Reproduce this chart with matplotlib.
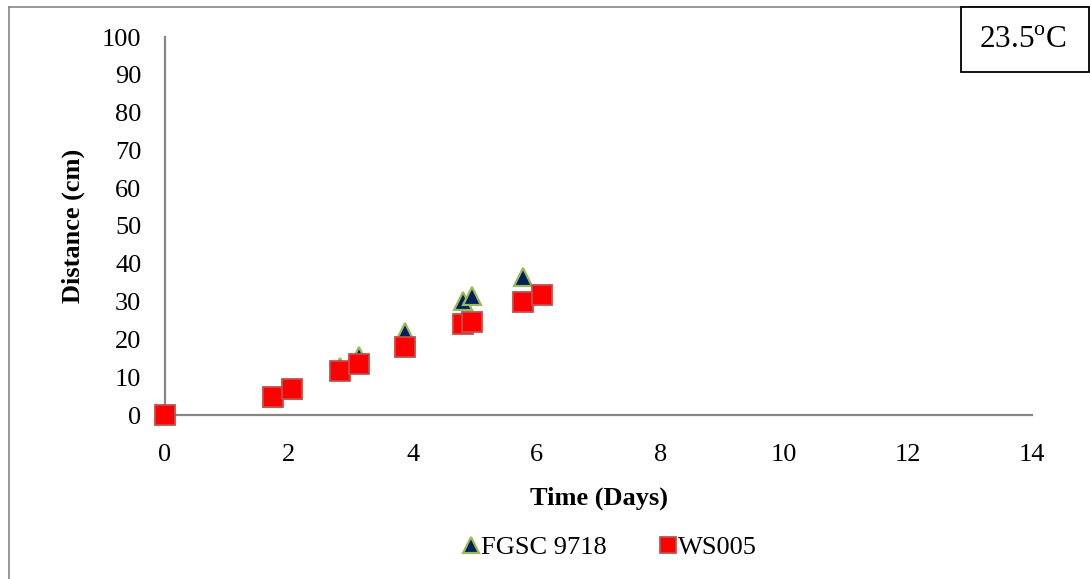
import matplotlib
matplotlib.use("Agg")
import matplotlib.pyplot as plt
from matplotlib.lines import Line2D
from matplotlib.patches import Rectangle

plt.rcParams['font.family'] = ['Liberation Serif', 'DejaVu Serif']
plt.rcParams['mathtext.fontset'] = 'custom'
plt.rcParams['mathtext.rm'] = 'Liberation Serif'

# Growth of two strains at 23.5 C
fgsc_days = [0, 1.74, 2.05, 2.82, 3.13, 3.88, 4.81, 4.96, 5.78]
fgsc_dist = [0, 4.5, 6.5, 12.6, 15.6, 22.0, 30.2, 31.6, 36.4]
ws_days = [0, 1.74, 2.05, 2.82, 3.13, 3.88, 4.81, 4.96, 5.78, 6.09]
ws_dist = [0, 4.8, 7.0, 11.6, 13.4, 18.1, 24.0, 24.6, 30.0, 31.7]
x_ticks = [0, 2, 4, 6, 8, 10, 12, 14]
y_ticks = [0, 10, 20, 30, 40, 50, 60, 70, 80, 90, 100]
series_names = ["FGSC 9718", "WS005"]
temp_label = "23.5$^{\\mathrm{o}}$C"

W, H = 1090, 579
fig = plt.figure(figsize=(W / 100, H / 100), dpi=100)
ax = fig.add_axes([165 / W, 1 - 415 / H, (1032 - 165) / W, (415 - 37) / H])

tri_face, tri_edge = '#002060', '#9BBB59'
sq_face, sq_edge = '#FF0000', '#C0504D'

ax.plot(fgsc_days, fgsc_dist, linestyle='none', marker='^', markersize=13.5,
        markerfacecolor=tri_face, markeredgecolor=tri_edge, markeredgewidth=1.6,
        zorder=3, clip_on=False)
ax.plot(ws_days, ws_dist, linestyle='none', marker='s', markersize=14.5,
        markerfacecolor=sq_face, markeredgecolor=sq_edge, markeredgewidth=1.3,
        zorder=4, clip_on=False)

ax.set_xlim(0, 14)
ax.set_ylim(0, 100)
ax.set_xticks(x_ticks)
ax.set_yticks(y_ticks)
ax.tick_params(length=0, labelsize=19, colors='black')
ax.tick_params(axis='x', pad=21)
ax.tick_params(axis='y', pad=17)

for side in ['top', 'right']:
    ax.spines[side].set_visible(False)
for side in ['left', 'bottom']:
    ax.spines[side].set_color('#868686')
    ax.spines[side].set_linewidth(1.6)

ax.set_xlabel("Time (Days)", fontsize=19, fontweight='bold', labelpad=15)
ax.set_ylabel("Distance (cm)", fontsize=19, fontweight='bold', labelpad=12)

handles = [
    Line2D([], [], linestyle='none', marker='^', markersize=11,
           markerfacecolor=tri_face, markeredgecolor=tri_edge, markeredgewidth=1.6),
    Line2D([], [], linestyle='none', marker='s', markersize=11,
           markerfacecolor=sq_face, markeredgecolor=sq_edge, markeredgewidth=1.3),
]
fig.legend(handles, series_names, loc='center', bbox_to_anchor=(610 / W, 1 - 547 / H),
           ncol=2, frameon=False, fontsize=19, handlelength=0.6, handletextpad=0.1,
           columnspacing=2.0, borderpad=0)

# outer chart frame (left and top edges)
fig.add_artist(Line2D([9 / W, 9 / W], [0, 1 - 7 / H], transform=fig.transFigure,
                      color='#868686', linewidth=1.2))
fig.add_artist(Line2D([9 / W, 1], [1 - 7 / H, 1 - 7 / H], transform=fig.transFigure,
                      color='#868686', linewidth=1.2))

# temperature box
fig.add_artist(Rectangle((961 / W, 1 - 72 / H), (1089 - 961) / W, (72 - 7) / H,
                         transform=fig.transFigure, facecolor='white',
                         edgecolor='black', linewidth=1.3, zorder=5))
fig.text(1023 / W, 1 - 40 / H, temp_label, ha='center', va='center',
         fontsize=22.5, zorder=6)

fig.savefig("out.png", dpi=100)
